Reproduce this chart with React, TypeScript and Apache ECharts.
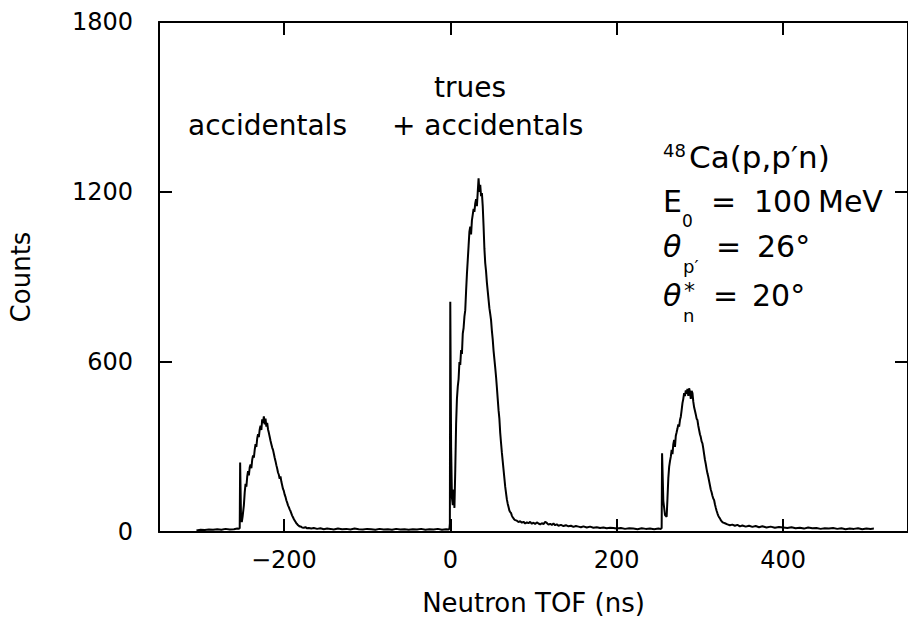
import React, { useEffect, useRef } from "react";
import * as echarts from "echarts";

// Neutron TOF (ns) and counts
const tofBaseA = [-305, -300, -295, -290, -285, -280, -275, -270, -265, -260, -256, -254];
const cntBaseA = [5, 8, 7, 9, 8, 10, 8, 11, 9, 10, 12, 11];

const tofLeft = [-253, -252.5, -251.5, -250.5, -249.5, -248, -247, -246, -245, -244, -243, -242, -241, -240, -239, -238, -237, -236, -235, -234, -233, -232, -231, -230, -229, -228, -227, -226, -225, -224, -223, -222, -221, -220, -219, -218, -217, -216, -215, -214, -213, -212, -211, -210, -209, -208, -207, -206, -205, -204, -203, -202, -201, -200, -199, -198, -197, -196, -195, -194, -193, -192, -191, -190, -189, -188, -187, -186, -185, -184, -183, -182, -181, -180, -178, -176, -174, -172, -170, -167, -164, -160, -156, -152, -148, -144, -140, -135, -130, -125, -120, -115, -110, -105, -100, -95, -90, -85, -80, -75, -70, -65, -60, -55, -50, -45, -40, -35, -30, -25, -20, -15, -10, -5, -2];
const cntLeft = [14, 245, 60, 35, 55, 95, 140, 170, 160, 195, 215, 200, 228, 238, 225, 255, 270, 262, 290, 310, 300, 330, 345, 335, 362, 375, 360, 398, 385, 408, 380, 400, 372, 385, 362, 350, 336, 322, 310, 298, 290, 276, 262, 250, 236, 224, 210, 202, 188, 196, 178, 165, 152, 145, 132, 124, 112, 104, 94, 88, 80, 74, 66, 58, 52, 46, 41, 36, 31, 28, 24, 22, 19, 20, 16, 15, 17, 13, 14, 12, 14, 11, 13, 10, 12, 11, 9, 12, 10, 11, 9, 12, 10, 9, 11, 10, 8, 11, 9, 10, 8, 11, 9, 10, 8, 10, 9, 11, 8, 10, 9, 11, 8, 10, 9];

const tofCenter = [-1, -0.5, 0, 1, 2, 3, 4, 5, 6, 7, 8, 9, 10, 11, 12, 13, 14, 15, 16, 17, 18, 19, 20, 21, 22, 23, 24, 25, 26, 27, 28, 29, 30, 31, 32, 33, 34, 35, 36, 37, 38, 39, 40, 41, 42, 43, 44, 45, 46, 47, 48, 49, 50, 51, 52, 53, 54, 55, 56, 57, 58, 59, 60, 61, 62, 63, 64, 65, 66, 67, 68, 69, 70, 71, 72, 73, 74, 75, 76, 77, 78, 80, 82, 84, 86, 88, 90, 92, 94, 96, 98, 100, 102, 104, 106, 108, 110, 112, 114, 116, 118, 120, 122, 124, 126, 128, 130, 133, 136, 139, 142, 145, 148, 151, 154, 157, 160, 164, 168, 172, 176, 180, 184, 188, 192, 196, 200, 205, 210, 215, 220, 225, 230, 235, 240, 245, 250, 253];
const cntCenter = [12, 30, 813, 300, 120, 95, 150, 85, 220, 380, 470, 513, 540, 600, 590, 642, 628, 700, 720, 760, 783, 850, 910, 960, 1010, 1060, 1078, 1050, 1100, 1120, 1140, 1130, 1160, 1175, 1150, 1200, 1248, 1200, 1225, 1185, 1196, 1150, 1080, 1000, 949, 920, 880, 850, 820, 790, 770, 748, 710, 680, 640, 610, 580, 548, 510, 470, 430, 400, 350, 314, 280, 250, 220, 190, 160, 137, 115, 100, 88, 76, 70, 67, 58, 52, 48, 44, 42, 40, 35, 38, 33, 36, 30, 34, 31, 36, 29, 33, 28, 34, 30, 27, 31, 28, 36, 32, 26, 29, 25, 30, 24, 27, 22, 25, 21, 24, 20, 22, 18, 21, 19, 17, 20, 16, 19, 15, 17, 14, 16, 13, 15, 14, 12, 14, 11, 13, 12, 10, 13, 11, 12, 10, 12, 11];

const tofRight = [254, 254.5, 256, 258, 260, 261, 262, 263, 264, 265, 266, 267, 268, 269, 270, 271, 272, 273, 274, 275, 276, 277, 278, 279, 280, 281, 282, 283, 284, 285, 286, 287, 288, 289, 290, 291, 292, 293, 294, 295, 296, 297, 298, 299, 300, 301, 302, 303, 304, 305, 306, 307, 308, 309, 310, 311, 312, 313, 314, 315, 316, 317, 318, 319, 320, 321, 322, 323, 324, 325, 326, 327, 328, 330, 333, 336, 339, 342, 345, 348, 351, 355, 359, 363, 367, 371, 375, 380, 385, 390, 395, 400, 405, 410, 415, 420, 425, 430, 435, 440, 445, 450, 455, 460, 465, 470, 475, 480, 485, 490, 495, 500, 505, 509];
const cntRight = [14, 278, 110, 60, 54, 120, 190, 230, 250, 266, 290, 275, 310, 325, 300, 340, 352, 365, 380, 372, 395, 407, 430, 455, 470, 490, 480, 500, 488, 505, 480, 507, 495, 470, 498, 490, 460, 440, 428, 415, 400, 395, 375, 360, 345, 335, 320, 313, 295, 275, 255, 240, 222, 207, 195, 180, 165, 150, 140, 128, 118, 113, 98, 86, 75, 66, 58, 52, 48, 42, 38, 35, 33, 31, 27, 24, 26, 22, 25, 20, 23, 19, 22, 18, 21, 17, 20, 16, 19, 15, 18, 16, 14, 17, 13, 15, 12, 16, 13, 14, 11, 13, 12, 14, 11, 13, 10, 12, 11, 13, 10, 12, 11, 12];

const xTickValues = [-200, 0, 200, 400];
const xMin = -350;
const xMax = 550;
const yMin = 0;
const yMax = 1800;
const yStep = 600;

const FONT = "DejaVu Sans";

export default function App() {
  const ref = useRef<HTMLDivElement>(null);
  useEffect(() => {
    document.body.style.margin = "0";
    const chart = echarts.init(ref.current!, undefined, { renderer: "svg" });
    const tof = [...tofBaseA, ...tofLeft, ...tofCenter, ...tofRight];
    const cnt = [...cntBaseA, ...cntLeft, ...cntCenter, ...cntRight];
    const data = tof.map((t, i) => [t, cnt[i]]);
    const axisLine = { show: true, onZero: false, lineStyle: { color: "#000", width: 2 } };
    const tick = { show: true, inside: true, length: 13, lineStyle: { color: "#000", width: 2 } };
    const txt = (text: string, x: number, y: number, size: number, extra: any = {}) => ({
      type: "text",
      x,
      y,
      style: {
        text,
        fontSize: size,
        fontFamily: FONT,
        fill: "#000",
        verticalAlign: "middle",
        align: "left",
        ...extra,
      },
    });
    chart.setOption({
      animation: false,
      backgroundColor: "#fff",
      grid: { left: 159, top: 22, width: 759, height: 510 },
      xAxis: [
        {
          type: "value",
          min: xMin,
          max: xMax,
          position: "bottom",
          axisLine,
          axisTick: { ...tick, customValues: xTickValues },
          axisLabel: {
            customValues: xTickValues,
            fontSize: 24,
            fontFamily: FONT,
            color: "#000",
            margin: 16,
            formatter: (v: number) => (v < 0 ? "\u2212" + Math.abs(v) : String(v)),
          },
          splitLine: { show: false },
          name: "Neutron TOF (ns)",
          nameLocation: "middle",
          nameGap: 58,
          nameTextStyle: { fontSize: 26, fontFamily: FONT, color: "#000" },
        },
        {
          type: "value",
          min: xMin,
          max: xMax,
          position: "top",
          axisLine,
          axisTick: { ...tick, customValues: xTickValues },
          axisLabel: { show: false },
          splitLine: { show: false },
        },
      ],
      yAxis: [
        {
          type: "value",
          min: yMin,
          max: yMax,
          interval: yStep,
          position: "left",
          axisLine,
          axisTick: tick,
          axisLabel: {
            fontSize: 24,
            fontFamily: FONT,
            color: "#000",
            margin: 26,
            formatter: (v: number) => String(v),
          },
          splitLine: { show: false },
          name: "Counts",
          nameLocation: "middle",
          nameGap: 125,
          nameTextStyle: { fontSize: 26, fontFamily: FONT, color: "#000" },
        },
        {
          type: "value",
          min: yMin,
          max: yMax,
          interval: yStep,
          position: "right",
          axisLine,
          axisTick: tick,
          axisLabel: { show: false },
          splitLine: { show: false },
        },
      ],
      series: [
        {
          type: "line",
          data,
          showSymbol: false,
          lineStyle: { color: "#000", width: 2 },
          xAxisIndex: 0,
          yAxisIndex: 0,
        },
      ],
      graphic: [
        txt("accidentals", 188, 125, 28),
        txt("trues", 470, 87, 28, { align: "center" }),
        txt("+ accidentals", 392, 125, 28),
        txt("48", 663, 150, 18),
        txt("Ca(p,p\u2032n)", 689, 157, 31),
        txt("E", 663, 201, 30),
        txt("0", 682, 221, 17),
        txt("=", 711, 201, 30),
        txt("100", 754, 201, 30),
        txt("MeV", 818, 201, 30),
        txt("\u03b8", 663, 246, 30, { fontStyle: "italic" }),
        txt("p\u2032", 683, 266, 18),
        txt("=", 716, 246, 30),
        txt("26\u00b0", 757, 246, 30),
        txt("\u03b8", 663, 295, 30, { fontStyle: "italic" }),
        txt("*", 684, 290, 22),
        txt("n", 683, 315, 18),
        txt("=", 713, 295, 30),
        txt("20\u00b0", 752, 295, 30),
      ],
    });
    return () => chart.dispose();
  }, []);
  return <div ref={ref} style={{ width: 908, height: 630 }} />;
}
